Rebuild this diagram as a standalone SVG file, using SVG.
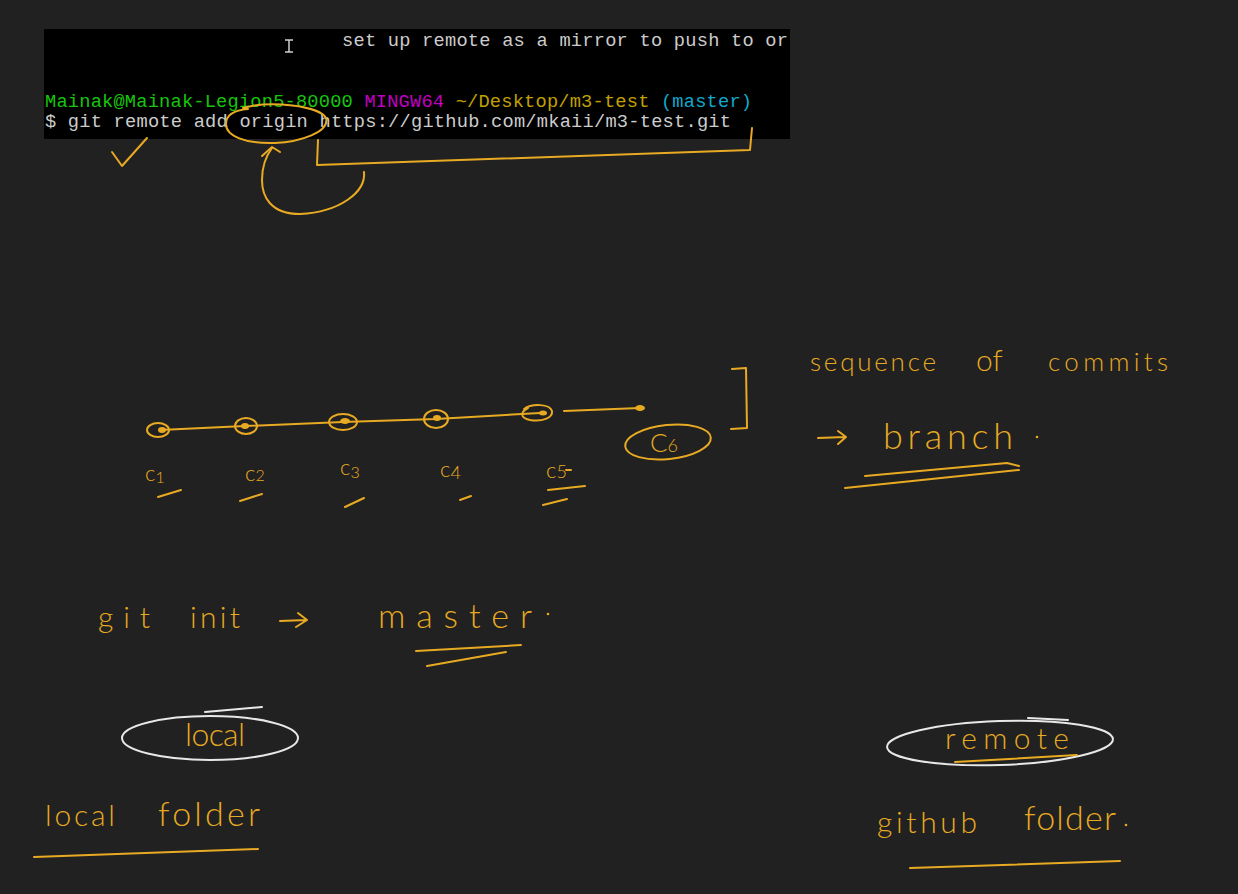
<svg xmlns="http://www.w3.org/2000/svg" width="1238" height="894" viewBox="0 0 1238 894">
<style>
.ink{fill:none;stroke:#e8aa22;stroke-width:2;stroke-linecap:round;stroke-linejoin:round}
.wink{fill:none;stroke:#e8e8e8;stroke-width:2;stroke-linecap:round}
.dot{fill:#e8aa22}
.hw{font-family:Lato,"Open Sans","Liberation Sans",sans-serif;font-weight:300;fill:#e8aa22}
.term{font-family:"Liberation Mono","DejaVu Sans Mono",monospace;font-size:18.7px}
</style>
<rect x="0" y="0" width="1238" height="894" fill="#212121"/>

<g id="terminal">
<rect x="44" y="29" width="746" height="110" fill="#000"/>
<text class="term" x="342" y="46" fill="#cccccc" textLength="446" lengthAdjust="spacing">set up remote as a mirror to push to or</text>
<text class="term" x="45" y="107" textLength="707" lengthAdjust="spacing" xml:space="preserve"><tspan fill="#16c60c">Mainak@Mainak-Legion5-80000</tspan> <tspan fill="#c000c0">MINGW64</tspan> <tspan fill="#c1a100">~/Desktop/m3-test</tspan> <tspan fill="#11a8cd">(master)</tspan></text>
<text class="term" x="45" y="127" fill="#cccccc" textLength="686" lengthAdjust="spacing">$ git remote add origin https://github.com/mkaii/m3-test.git</text>
<path d="M285 40h8M289 40v12M285 52h8" stroke="#d0d0d0" stroke-width="1.5" fill="none"/>
</g>

<g id="annotations-top">
<path class="ink" d="M112 152 L122 166 L147 138"/>
<path class="ink" d="M243 108 C270 100 320 106 326 118 C330 132 300 142 275 143 C245 144 226 136 226 124 C226 114 236 110 248 109"/>
</g>

<g id="commits">
<g id="c1"><ellipse class="ink" cx="158" cy="430" rx="11" ry="7"/><ellipse class="dot" cx="162" cy="430" rx="4" ry="3"/></g>
<g id="c2"><ellipse class="ink" cx="246" cy="426" rx="11" ry="8"/><ellipse class="dot" cx="245" cy="426" rx="4" ry="3"/></g>
<g id="c3"><ellipse class="ink" cx="343" cy="422" rx="14" ry="8"/><ellipse class="dot" cx="345" cy="421" rx="5" ry="3"/></g>
<g id="c4"><ellipse class="ink" cx="436" cy="419" rx="12" ry="9"/><ellipse class="dot" cx="437" cy="418" rx="4" ry="3"/></g>
<g id="c5"><path class="ink" d="M524 409 C532 403 550 404 552 411 C553 418 542 422 530 420 C520 418 520 412 528 408"/><ellipse class="dot" cx="543" cy="413" rx="4" ry="2.5"/></g>
<g id="c6dot"><ellipse class="dot" cx="640" cy="408" rx="5" ry="3"/></g>
<g id="c6"><ellipse class="ink" cx="668" cy="442" rx="43" ry="17" transform="rotate(-6 668 442)"/><text class="hw" x="650" y="452" font-size="26">C<tspan font-size="18">6</tspan></text></g>
</g>

<g id="labels">
<text class="hw" x="145" y="481" font-size="22">c<tspan font-size="16" dy="2">1</tspan></text>
<text class="hw" x="245" y="481" font-size="22">c<tspan font-size="16">2</tspan></text>
<text class="hw" x="340" y="475" font-size="22">c<tspan font-size="16" dy="3">3</tspan></text>
<text class="hw" x="440" y="477" font-size="22">c<tspan font-size="18" dy="2">4</tspan></text>
<text class="hw" x="546" y="478" font-size="22">c<tspan font-size="18">5</tspan></text>
<path class="ink" d="M566 470 L571 470"/>
<path class="ink" d="M158 497 L181 490 M240 501 L262 494 M345 507 L364 498 M460 500 L471 496 M548 490 L585 486 M543 505 L567 499"/>
</g>

<g id="branch-note">
<path class="ink" d="M732 369 L746 368 L747 428 L731 429"/>
<text class="hw" x="810" y="371" font-size="26" textLength="126" lengthAdjust="spacing">sequence</text>
<text class="hw" x="976" y="371" font-size="30">of</text>
<text class="hw" x="1048" y="371" font-size="26" textLength="120" lengthAdjust="spacing">commits</text>
<path class="ink" d="M818 438 L845 437 M838 431 L846 437 L838 444"/>
<text class="hw" x="883" y="449" font-size="36" textLength="130" lengthAdjust="spacing">branch</text>
<circle class="dot" cx="1037" cy="437" r="1.3"/>
<path class="ink" d="M865 476 L1007 463 L1019 466"/>
<path class="ink" d="M845 488 L1019 470"/>
</g>

<g id="git-init">
<text class="hw" x="98" y="628" font-size="30" textLength="52" lengthAdjust="spacing">git</text>
<text class="hw" x="190" y="628" font-size="30" textLength="50" lengthAdjust="spacing">init</text>
<path class="ink" d="M280 621 L307 620 M298 613 L307 620 L296 627"/>
<text class="hw" x="378" y="628" font-size="34" textLength="154" lengthAdjust="spacing">master</text>
<circle class="dot" cx="548" cy="614" r="1.3"/>
<path class="ink" d="M416 651 L521 645 M427 666 L506 652"/>
</g>

<g id="local">
<ellipse class="wink" cx="210" cy="738" rx="88" ry="22"/>
<path class="wink" d="M205 712 L262 707"/>
<text class="hw" x="185" y="746" font-size="32" textLength="60" lengthAdjust="spacing">local</text>
<text class="hw" x="45" y="826" font-size="30" textLength="70" lengthAdjust="spacing">local</text>
<text class="hw" x="158" y="826" font-size="34" textLength="102" lengthAdjust="spacing">folder</text>
<path class="ink" d="M34 857 L258 849"/>
</g>

<g id="remote">
<ellipse class="wink" cx="1000" cy="743" rx="113" ry="22" transform="rotate(-2 1000 743)"/>
<path class="wink" d="M1028 718 L1068 720"/>
<text class="hw" x="945" y="749" font-size="30" textLength="124" lengthAdjust="spacing">remote</text>
<path class="ink" d="M955 762 L1077 755"/>
<text class="hw" x="877" y="833" font-size="30" textLength="100" lengthAdjust="spacing">github</text>
<text class="hw" x="1024" y="830" font-size="34" textLength="92" lengthAdjust="spacing">folder</text>
<circle class="dot" cx="1126" cy="825" r="1.3"/>
<path class="ink" d="M910 868 L1120 861"/>
</g>

<g id="connectors">
<path class="ink" d="M160 430 L245 426 L343 422 L436 419 L540 413"/>
<path class="ink" d="M564 411 L640 408"/>
<path class="ink" d="M364 172 C366 192 340 212 300 214 C270 214 262 196 262 180 C262 166 266 156 272 148"/>
<path class="ink" d="M262 156 L272 147 L280 152"/>
<path class="ink" d="M318 140 L317 165 L750 150 L752 128"/>
</g>
</svg>
